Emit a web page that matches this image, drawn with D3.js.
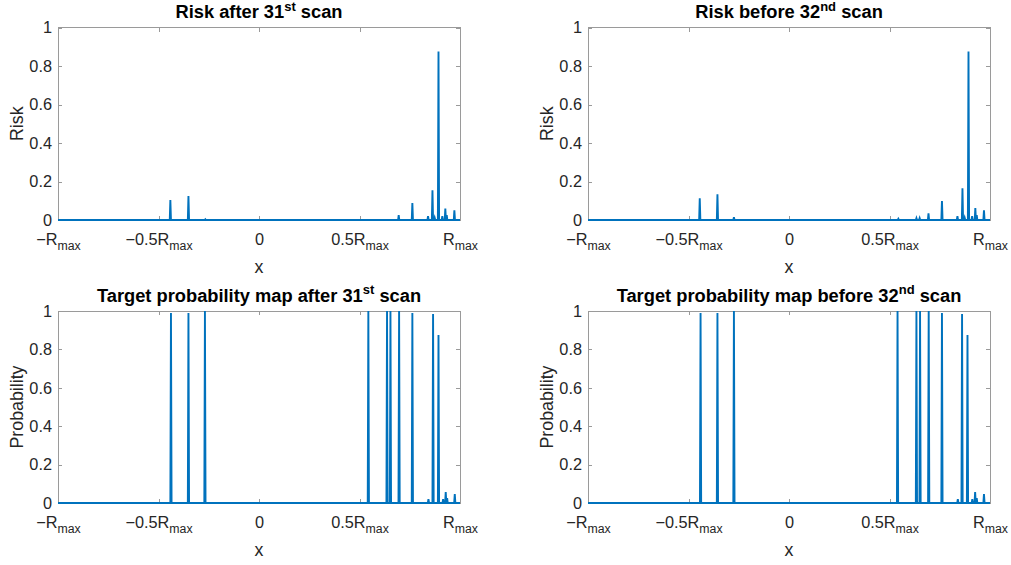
<!DOCTYPE html>
<html>
<head>
<meta charset="utf-8">
<script src="https://cdn.jsdelivr.net/npm/d3@7"></script>
<style>
  html, body { margin: 0; padding: 0; background: #fff; }
  svg { display: block; font-family: "Liberation Sans", Arial, Helvetica, sans-serif; }
</style>
</head>
<body>
<svg id="fig" width="1011" height="565"></svg>
<script>
// Spike locations (in units of R_max) and peak heights for each panel.
const riskAfterX   = [-0.441, -0.351, -0.267, 0.695, 0.763, 0.841, 0.863, 0.874, 0.893, 0.912, 0.927, 0.934, 0.972];
const riskAfterY   = [ 0.104,  0.125,  0.004, 0.025, 0.088, 0.020, 0.155, 0.012, 0.875, 0.020, 0.060, 0.025, 0.050];

const riskBeforeX  = [-0.444, -0.356, -0.274, 0.544, 0.634, 0.650, 0.694, 0.761, 0.838, 0.863, 0.874, 0.893, 0.911, 0.927, 0.934, 0.970];
const riskBeforeY  = [ 0.113,  0.134,  0.014, 0.006, 0.010, 0.010, 0.035, 0.099, 0.020, 0.165, 0.012, 0.875, 0.020, 0.062, 0.025, 0.050];

const probAfterX   = [-0.438, -0.351, -0.269, 0.544, 0.637, 0.654, 0.697, 0.763, 0.843, 0.866, 0.893, 0.916, 0.929, 0.936, 0.974];
const probAfterY   = [ 0.990,  0.990,  1.000, 1.000, 1.000, 1.000, 1.000, 0.990, 0.020, 0.985, 0.875, 0.020, 0.057, 0.025, 0.047];

const probBeforeX  = [-0.440, -0.356, -0.274, 0.540, 0.634, 0.652, 0.695, 0.761, 0.840, 0.861, 0.888, 0.912, 0.926, 0.934, 0.970];
const probBeforeY  = [ 0.990,  0.990,  1.000, 1.000, 1.000, 1.000, 1.000, 0.990, 0.020, 0.985, 0.875, 0.020, 0.057, 0.025, 0.047];

// Axis ticks
const xTickValues = [-1, -0.5, 0, 0.5, 1];
const xTickMain   = ["\u2212R", "\u22120.5R", "0", "0.5R", "R"];
const xTickSub    = ["max", "max", "", "max", "max"];
const yTickValues = [0, 0.2, 0.4, 0.6, 0.8, 1];
const yTickLabels = ["0", "0.2", "0.4", "0.6", "0.8", "1"];

// Panel titles and labels
const titleMain = ["Risk after 31", "Risk before 32", "Target probability map after 31", "Target probability map before 32"];
const titleSup  = ["st", "nd", "st", "nd"];
const titleTail = " scan";
const yLabels   = ["Risk", "Risk", "Probability", "Probability"];
const xLabel    = "x";

const LINE_COLOR = "#0072BD";
const AXIS_COLOR = "#9a9a9a";
const TEXT_COLOR = "#262626";

const svg = d3.select("#fig");

const panels = [
  { xs: riskAfterX,  ys: riskAfterY,  x0: 58,  x1: 460, yTop: 27.5, yBot: 220 },
  { xs: riskBeforeX, ys: riskBeforeY, x0: 588, x1: 990, yTop: 27.5, yBot: 220 },
  { xs: probAfterX,  ys: probAfterY,  x0: 58,  x1: 460, yTop: 311,  yBot: 503 },
  { xs: probBeforeX, ys: probBeforeY, x0: 588, x1: 990, yTop: 311,  yBot: 503 }
];

// Build a sampled trace: flat at zero with a narrow peak at every spike location.
function buildTrace(xs, ys) {
  const half = 0.003;
  const order = d3.range(xs.length).sort((a, b) => xs[a] - xs[b]);
  const pts = [[-1, 0]];
  order.forEach(i => {
    pts.push([xs[i] - half, 0], [xs[i], ys[i]], [xs[i] + half, 0]);
  });
  pts.push([1, 0]);
  return pts;
}

panels.forEach((p, idx) => {
  const x = d3.scaleLinear().domain([-1, 1]).range([p.x0, p.x1]);
  const y = d3.scaleLinear().domain([0, 1]).range([p.yBot, p.yTop]);
  const g = svg.append("g");

  // axes box
  g.append("rect")
    .attr("x", p.x0).attr("y", p.yTop)
    .attr("width", p.x1 - p.x0).attr("height", p.yBot - p.yTop)
    .attr("fill", "none").attr("stroke", AXIS_COLOR).attr("stroke-width", 1)
    .attr("shape-rendering", "crispEdges");

  const styleAxis = sel => {
    sel.select(".domain").remove();
    sel.selectAll(".tick line").attr("stroke", AXIS_COLOR).attr("shape-rendering", "crispEdges");
    sel.selectAll(".tick text").attr("fill", TEXT_COLOR).attr("font-size", 16.3)
       .attr("font-family", "Liberation Sans, Arial, sans-serif");
  };

  // bottom axis with R_max labels
  const bottom = g.append("g").attr("transform", `translate(0,${p.yBot})`)
    .call(d3.axisBottom(x).tickValues(xTickValues).tickSizeInner(-4).tickSizeOuter(0)
      .tickPadding(13.4).tickFormat(""));
  styleAxis(bottom);
  bottom.selectAll(".tick text").each(function(d, i) {
    const t = d3.select(this);
    t.text(null);
    t.append("tspan").text(xTickMain[i]);
    if (xTickSub[i]) {
      t.append("tspan").attr("dy", 5).attr("font-size", 12.3).text(xTickSub[i]);
    }
  });

  // top axis (ticks only)
  const top = g.append("g").attr("transform", `translate(0,${p.yTop})`)
    .call(d3.axisTop(x).tickValues(xTickValues).tickSizeInner(-4).tickSizeOuter(0).tickFormat(""));
  styleAxis(top);

  // left axis
  const left = g.append("g").attr("transform", `translate(${p.x0},0)`)
    .call(d3.axisLeft(y).tickValues(yTickValues).tickSizeInner(-4).tickSizeOuter(0)
      .tickPadding(6).tickFormat((d, i) => yTickLabels[i]));
  styleAxis(left);

  // right axis (ticks only)
  const right = g.append("g").attr("transform", `translate(${p.x1},0)`)
    .call(d3.axisRight(y).tickValues(yTickValues).tickSizeInner(-4).tickSizeOuter(0).tickFormat(""));
  styleAxis(right);

  // data trace
  const line = d3.line().x(d => x(d[0])).y(d => y(d[1]));
  g.append("path")
    .datum(buildTrace(p.xs, p.ys))
    .attr("d", line)
    .attr("fill", "none")
    .attr("stroke", LINE_COLOR)
    .attr("stroke-width", 1.9)
    .attr("stroke-linejoin", "miter");

  const cx = (p.x0 + p.x1) / 2;

  // title with ordinal superscript
  const title = g.append("text")
    .attr("x", cx).attr("y", p.yTop - 9.3)
    .attr("text-anchor", "middle")
    .attr("font-size", 18.3).attr("font-weight", "bold").attr("fill", "#000");
  title.append("tspan").text(titleMain[idx]);
  title.append("tspan").attr("dy", -7.5).attr("font-size", 13).text(titleSup[idx]);
  title.append("tspan").attr("dy", 7.5).text(titleTail);

  // x label
  g.append("text")
    .attr("x", cx).attr("y", p.yBot + 52.5)
    .attr("text-anchor", "middle")
    .attr("font-size", 17.8).attr("fill", TEXT_COLOR)
    .text(xLabel);

  // y label
  g.append("text")
    .attr("transform", `translate(${p.x0 - 35},${(p.yTop + p.yBot) / 2}) rotate(-90)`)
    .attr("text-anchor", "middle")
    .attr("font-size", 17.8).attr("fill", TEXT_COLOR)
    .text(yLabels[idx]);
});
</script>
</body>
</html>
